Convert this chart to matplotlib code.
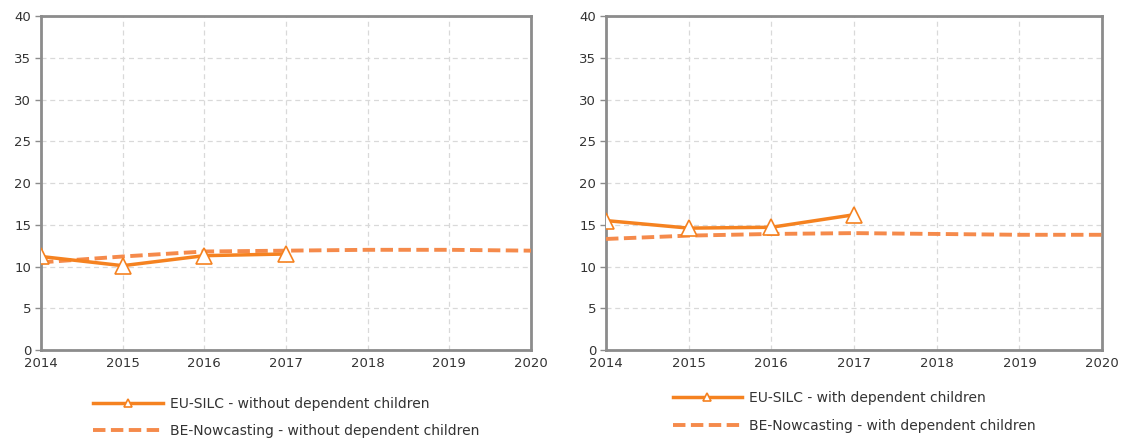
import matplotlib
matplotlib.use("Agg")
import matplotlib.pyplot as plt

years = [2014, 2015, 2016, 2017, 2018, 2019, 2020]
silc_years = [2014, 2015, 2016, 2017]

silc_without = [11.2, 10.1, 11.3, 11.5]
now_without = [10.5, 11.2, 11.8, 11.9, 12.0, 12.0, 11.9]
silc_with = [15.5, 14.6, 14.7, 16.2]
now_with = [13.3, 13.7, 13.9, 14.0, 13.9, 13.8, 13.8]

labels_without = ["EU-SILC - without dependent children",
                  "BE-Nowcasting - without dependent children"]
labels_with = ["EU-SILC - with dependent children",
               "BE-Nowcasting - with dependent children"]

solid_col = "#F58220"
dash_col = "#F58A4B"
grey = "#8C8C8C"

plt.rcParams['font.family'] = ['DejaVu Sans']
plt.rcParams['font.size'] = 9

fig = plt.figure(figsize=(11.21, 4.41), dpi=100)
ax1 = fig.add_axes([0.0366, 0.2063, 0.4371, 0.7574])
ax2 = fig.add_axes([0.5406, 0.2063, 0.4425, 0.7574])


def draw(ax, silc, now, labels, leg_y, spacing):
    l1, = ax.plot(silc_years, silc, color=solid_col, lw=2.5, marker="^",
                  markersize=11, markerfacecolor="white",
                  markeredgecolor=solid_col, markeredgewidth=1.2, zorder=4)
    l2, = ax.plot(years, now, color=dash_col, lw=2.8, dashes=(3.2, 1.4),
                  zorder=3)
    ax.set_xlim(2014, 2020)
    ax.set_ylim(0, 40)
    ax.set_yticks(range(0, 41, 5))
    ax.set_xticks(years)
    ax.grid(True, color="#D9D9D9", linestyle=(0, (4, 3)), lw=0.9)
    for s in ax.spines.values():
        s.set_color(grey)
        s.set_linewidth(2)
    ax.tick_params(axis="y", length=4, width=1, color=grey, pad=3,
                   labelcolor="#333333", labelsize=9.5)
    ax.tick_params(axis="x", length=0, pad=5, labelcolor="#333333",
                   labelsize=9.5)
    ax.legend([l1, l2], labels, loc="upper center",
              bbox_to_anchor=(0.5, leg_y), frameon=False, handlelength=5.0,
              fontsize=10, labelspacing=spacing, handletextpad=0.5,
              markerscale=0.5, labelcolor="#333333")


draw(ax1, silc_without, now_without, labels_without, -0.104, 0.9)
draw(ax2, silc_with, now_with, labels_with, -0.085, 1.0)

fig.savefig("out.png", dpi=100, facecolor="white")
